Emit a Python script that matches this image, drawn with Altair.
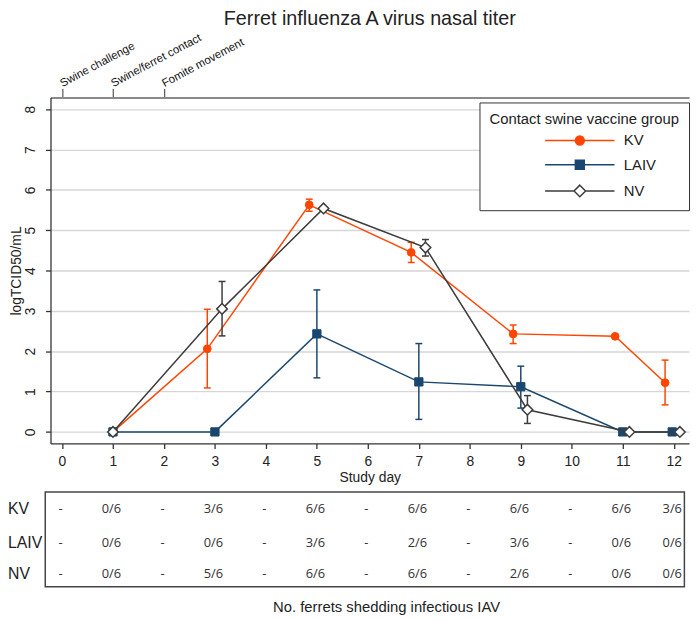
import altair as alt
import pandas as pd

# ---------------- data ----------------
groups = ["KV", "LAIV", "NV"]

kv_x = [1, 2.85, 4.85, 6.85, 8.85, 10.85, 11.83]
kv_y = [0, 2.06, 5.63, 4.45, 2.43, 2.37, 1.22]
kv_lo = [None, 1.09, 5.47, 4.20, 2.19, None, 0.67]
kv_hi = [None, 3.04, 5.77, 4.70, 2.65, None, 1.78]

laiv_x = [1, 3, 5, 7, 9, 11, 11.97]
laiv_y = [0, 0, 2.43, 1.24, 1.12, 0, 0]
laiv_lo = [None, None, 1.34, 0.31, 0.59, None, None]
laiv_hi = [None, None, 3.52, 2.19, 1.63, None, None]

nv_x = [1, 3.14, 5.13, 7.13, 9.13, 11.13, 12.12]
nv_y = [0, 3.05, 5.54, 4.57, 0.55, 0, 0]
nv_lo = [None, 2.38, None, 4.36, 0.21, None, None]
nv_hi = [None, 3.73, None, 4.77, 0.90, None, None]

day_ticks = list(range(13))
y_ticks = list(range(9))

event_days = [0, 1, 2]
event_labels = ["Swine challenge", "Swine/ferret contact", "Fomite movement"]

table_days = list(range(13))
kv_shed = ["-", "0/6", "-", "3/6", "-", "6/6", "-", "6/6", "-", "6/6", "-", "6/6", "3/6"]
laiv_shed = ["-", "0/6", "-", "0/6", "-", "3/6", "-", "2/6", "-", "3/6", "-", "0/6", "0/6"]
nv_shed = ["-", "0/6", "-", "5/6", "-", "6/6", "-", "6/6", "-", "2/6", "-", "0/6", "0/6"]

# ---------------- styles ----------------
line_colors = ["#ff4500", "#1a476f", "#3c3c3c"]
fill_colors = ["#ff4500", "#1a476f", "#ffffff"]
marker_shapes = ["circle", "square", "diamond"]
marker_sizes = [62, 70, 115]
marker_strokes = [1.0, 1.0, 1.5]
legend_paths = [
    "M-7.8,0L7.8,0M1,0A1,1,0,1,1,-1,0A1,1,0,1,1,1,0Z",
    "M-7.8,0L7.8,0M-1,-1L1,-1L1,1L-1,1Z",
    "M-7.8,0L-1.3,0M1.3,0L7.8,0M0,-1.3L1.3,0L0,1.3L-1.3,0Z",
]
FONT = "Liberation Sans"
TXT = "#222222"

rows = []
for g, xs, ys, los, his in [
    ("KV", kv_x, kv_y, kv_lo, kv_hi),
    ("LAIV", laiv_x, laiv_y, laiv_lo, laiv_hi),
    ("NV", nv_x, nv_y, nv_lo, nv_hi),
]:
    for x, y, lo, hi in zip(xs, ys, los, his):
        rows.append({"group": g, "x": x, "y": y, "lo": lo, "hi": hi})
df = pd.DataFrame(rows)
err = df.dropna(subset=["lo"]).reset_index(drop=True)

trows = []
for g, vals in [("KV", kv_shed), ("LAIV", laiv_shed), ("NV", nv_shed)]:
    for d, v in zip(table_days, vals):
        trows.append({"group": g, "day": d, "label": v})
tdf = pd.DataFrame(trows)

x_scale = alt.Scale(domain=[-0.225, 12.3], nice=False, zero=False)
y_scale = alt.Scale(domain=[-0.287, 8.29], nice=False, zero=False)

bottom_axis = alt.Axis(
    values=day_ticks, title="Study day", titleFontSize=14, titleFontWeight="normal",
    titleColor=TXT, titlePadding=2, labelFontSize=14, labelColor=TXT, labelPadding=6,
    tickSize=5, tickColor="#333333", tickWidth=1.3, domainColor="#333333", domainWidth=1.3,
    grid=False, labelFlush=False, labelOverlap=False,
)
left_axis = alt.Axis(
    values=y_ticks, title="logTCID50/mL", titleFontSize=14, titleFontWeight="normal",
    titleColor=TXT, titlePadding=0, labelAngle=270, labelAlign="center", labelBaseline="bottom",
    labelFontSize=14, labelColor=TXT, labelPadding=8, tickSize=5, tickColor="#333333",
    tickWidth=1.3, domainColor="#333333", domainWidth=1.3, grid=True, gridColor="#d6d6d6",
    gridWidth=1.4, labelFlush=False,
)
label_expr = ""
for d, lab in zip(event_days, event_labels):
    label_expr += f"datum.value == {d} ? '{lab}' : "
label_expr += "''"
top_axis = alt.Axis(
    orient="top", values=event_days, labelExpr=label_expr, title=None, labelAngle=332,
    labelAlign="left", labelBaseline="alphabetic", labelFontSize=11.5, labelColor="#111111",
    labelPadding=2, tickSize=9, tickColor="#555555", tickWidth=1.2, domainColor="#8a8a8a",
    domainWidth=2, grid=False, labelFlush=False, labelOverlap=False, labelBound=False,
)


def X(field, axis=None):
    return alt.X(field, scale=x_scale, axis=axis)


def Y(field):
    return alt.Y(field, scale=y_scale, axis=left_axis)


layers = []
for i, g in enumerate(groups):
    gd = df[df.group == g]
    ge = err[err.group == g]
    col = line_colors[i]
    layers.append(
        alt.Chart(gd).mark_line(strokeWidth=1.5, color=col).encode(
            x=X("x:Q", bottom_axis if i == 0 else None), y=Y("y:Q"), order="x:Q"
        )
    )
    if len(ge):
        layers.append(
            alt.Chart(ge).mark_rule(strokeWidth=1.5, color=col).encode(
                x=X("x:Q", top_axis if i == 0 else None), y=Y("lo:Q"), y2="hi:Q"
            )
        )
        for fld in ["lo", "hi"]:
            layers.append(
                alt.Chart(ge).mark_point(
                    shape="stroke", size=49, strokeWidth=1.5, stroke=col, opacity=1
                ).encode(x=X("x:Q"), y=Y(f"{fld}:Q"))
            )
    layers.append(
        alt.Chart(gd).mark_point(
            shape=marker_shapes[i], size=marker_sizes[i], filled=True,
            fill=fill_colors[i], stroke=col, strokeWidth=marker_strokes[i], opacity=1,
        ).encode(x=X("x:Q"), y=Y("y:Q"))
    )

leg = alt.Legend(
    title="Contact swine vaccine group", orient="none", legendX=434, legendY=5,
    strokeColor="#333333", fillColor="#ffffff", padding=10, cornerRadius=0,
    titleFontSize=15, titleFontWeight="normal", titleColor=TXT, titleFont=FONT,
    titleAnchor="middle", titlePadding=6, titleLimit=400, labelFontSize=15, labelColor=TXT,
    labelFont=FONT, symbolSize=81, symbolStrokeWidth=1.5, symbolOffset=61, labelOffset=37,
    rowPadding=8.5,
)
legend_layer = alt.Chart(df).transform_filter("false").mark_point(filled=True, opacity=1).encode(
    x=X("x:Q"),
    y=Y("y:Q"),
    shape=alt.Shape("group:N", scale=alt.Scale(domain=groups, range=legend_paths), legend=leg),
    fill=alt.Fill("group:N", scale=alt.Scale(domain=groups, range=fill_colors), legend=leg),
    stroke=alt.Stroke("group:N", scale=alt.Scale(domain=groups, range=line_colors), legend=leg),
)
layers.append(legend_layer)

# ---------------- table below ----------------
row_y = {"KV": 416.7, "LAIV": 450.7, "NV": 481.7}
for g in groups:
    layers.append(
        alt.Chart(tdf[tdf.group == g]).mark_text(
            font="Open Sans", fontSize=13, color="#333333", dx=-1.5, baseline="middle"
        ).encode(x=X("day:Q"), y=alt.value(row_y[g]), text="label:N")
    )
    layers.append(
        alt.Chart(pd.DataFrame({"t": [g]})).mark_text(
            font=FONT, fontSize=16, color=TXT, align="left", baseline="middle"
        ).encode(x=alt.value(-43), y=alt.value(row_y[g]), text="t:N")
    )

layers.append(
    alt.Chart(pd.DataFrame({"t": [0]})).mark_rect(
        fill="transparent", stroke="#444444", strokeWidth=1.5
    ).encode(x=alt.value(-5.3), x2=alt.value(641.3), y=alt.value(399), y2=alt.value(495))
)
layers.append(
    alt.Chart(pd.DataFrame({"t": ["No. ferrets shedding infectious IAV"]})).mark_text(
        font=FONT, fontSize=15, color=TXT, align="center", baseline="alphabetic"
    ).encode(x=alt.value(340), y=alt.value(520), text="t:N")
)

chart = alt.layer(*layers).resolve_axis(x="independent").properties(
    width=646,
    height=350,
    padding={"left": 43, "top": 87, "right": 3, "bottom": 174},
    autosize=alt.AutoSizeParams(type="none"),
    title=alt.TitleParams(
        "Ferret influenza A virus nasal titer", fontSize=20, fontWeight="normal",
        anchor="middle", offset=3, color=TXT, font=FONT,
    ),
).configure(font=FONT, background="white").configure_view(stroke=None)

chart.save("out.html", embed_options={"renderer": "svg", "actions": False})
